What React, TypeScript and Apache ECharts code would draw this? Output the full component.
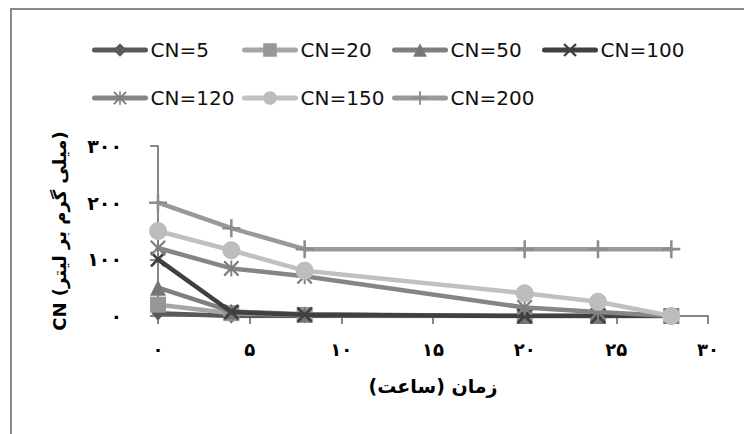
import React, { useEffect, useRef } from 'react';
import * as echarts from 'echarts';

// ---- data ----
const hours = [0, 4, 8, 20, 24, 28];
const seriesNames = ['CN=5', 'CN=20', 'CN=50', 'CN=100', 'CN=120', 'CN=150', 'CN=200'];
const cn5 = [5, 0, 0, 0, 0, 0];
const cn20 = [20, 5, 2, 0, 0, 0];
const cn50 = [50, 8, 3, 0, 0, 0];
const cn100 = [100, 7, 2, 0, 0, 0];
const cn120 = [120, 84, 70, 15, 7, 0];
const cn150 = [150, 116, 80, 40, 25, 0];
const cn200 = [200, 155, 118, 118, 118, 118];
const xTickLabels = ['۰', '۵', '۱۰', '۱۵', '۲۰', '۲۵', '۳۰'];
const yTickLabels = ['۰', '۱۰۰', '۲۰۰', '۳۰۰'];
const xTitle = 'زمان (ساعت)';
const yTitle = 'CN (میلی گرم بر لیتر)';

// ---- styles ----
const X_PATH = 'path://M0,1.2L1.2,0L5,3.8L8.8,0L10,1.2L6.2,5L10,8.8L8.8,10L5,6.2L1.2,10L0,8.8L3.8,5Z';
const STAR_PATH = 'path://M0,1L1,0L5,4L9,0L10,1L6,5L10,9L9,10L5,6L1,10L0,9L4,5Z M4.4,0L5.6,0L5.6,10L4.4,10Z';
const PLUS_PATH = 'path://M4.3,0H5.7V4.3H10V5.7H5.7V10H4.3V5.7H0V4.3H4.3Z';

const seriesValues = [cn5, cn20, cn50, cn100, cn120, cn150, cn200];
const styles = [
  { line: '#595959', mark: '#595959', symbol: 'diamond', size: [13, 15] },
  { line: '#a6a6a6', mark: '#979797', symbol: 'rect', size: 16 },
  { line: '#7f7f7f', mark: '#767676', symbol: 'triangle', size: 16 },
  { line: '#404040', mark: '#404040', symbol: X_PATH, size: 16 },
  { line: '#858585', mark: '#7f7f7f', symbol: STAR_PATH, size: 16 },
  { line: '#c0c0c0', mark: '#bdbdbd', symbol: 'circle', size: 18 },
  { line: '#999999', mark: '#8c8c8c', symbol: PLUS_PATH, size: 18 },
];
const legendCols = [92, 242, 392, 542];
const legendRows = [40, 88];

export default function App() {
  const ref = useRef<HTMLDivElement>(null);
  useEffect(() => {
    if (!ref.current) return;
    const chart = echarts.init(ref.current, undefined, { renderer: 'svg' });
    const persianFont = 'DejaVu Sans';
    const option: any = {
      animation: false,
      backgroundColor: '#ffffff',
      graphic: [
        {
          type: 'rect',
          shape: { x: 11, y: 9, width: 800, height: 500 },
          style: { fill: 'none', stroke: '#8a8a8a', lineWidth: 2 },
          silent: true,
        },
      ],
      legend: seriesNames.map((n, i) => ({
        data: [n],
        left: legendCols[i < 4 ? i : i - 4],
        top: legendRows[i < 4 ? 0 : 1],
        padding: 0,
        itemWidth: 51,
        itemHeight: 17,
        lineStyle: { width: 5, cap: 'round' },
        textStyle: { fontFamily: 'DejaVu Sans', fontSize: 20, color: '#111' },
        selectedMode: false,
      })),
      grid: { left: 158, right: 36, top: 146, bottom: 118, containLabel: false },
      xAxis: {
        type: 'value',
        min: 0,
        max: 30,
        interval: 5,
        name: xTitle,
        nameLocation: 'middle',
        nameGap: 60,
        nameTextStyle: { fontFamily: persianFont, fontSize: 19, fontWeight: 'bold', color: '#000' },
        axisLine: { show: true, lineStyle: { color: '#868686', width: 2 } },
        axisTick: { show: true, length: 8, lineStyle: { color: '#868686', width: 2 } },
        splitLine: { show: false },
        axisLabel: {
          margin: 24,
          fontFamily: persianFont,
          fontSize: 18,
          fontWeight: 'bold',
          color: '#000',
          formatter: (v: number) => xTickLabels[Math.round(v / 5)] ?? '',
        },
      },
      yAxis: {
        type: 'value',
        min: 0,
        max: 300,
        interval: 100,
        name: yTitle,
        nameLocation: 'middle',
        nameRotate: 90,
        nameGap: 90,
        nameTextStyle: { fontFamily: persianFont, fontSize: 18, fontWeight: 'bold', color: '#000' },
        axisLine: { show: true, lineStyle: { color: '#868686', width: 2 } },
        axisTick: { show: true, length: 8, lineStyle: { color: '#868686', width: 2 } },
        splitLine: { show: false },
        axisLabel: {
          margin: 36,
          fontFamily: persianFont,
          fontSize: 19,
          fontWeight: 'bold',
          color: '#000',
          formatter: (v: number) => yTickLabels[Math.round(v / 100)] ?? '',
        },
      },
      series: seriesNames.map((n, i) => ({
        name: n,
        type: 'line',
        data: hours.map((h, j) => [h, seriesValues[i][j]]),
        symbol: styles[i].symbol,
        symbolSize: styles[i].size,
        showAllSymbol: true,
        lineStyle: { color: styles[i].line, width: 4.5, cap: 'round', join: 'round' },
        itemStyle: { color: styles[i].mark },
        emphasis: { disabled: true },
        z: 2 + i,
      })),
    };
    chart.setOption(option);
    return () => chart.dispose();
  }, []);
  return (
    <div
      ref={ref}
      style={{ position: 'fixed', left: 0, top: 0, width: 744, height: 434, background: '#fff' }}
    />
  );
}
